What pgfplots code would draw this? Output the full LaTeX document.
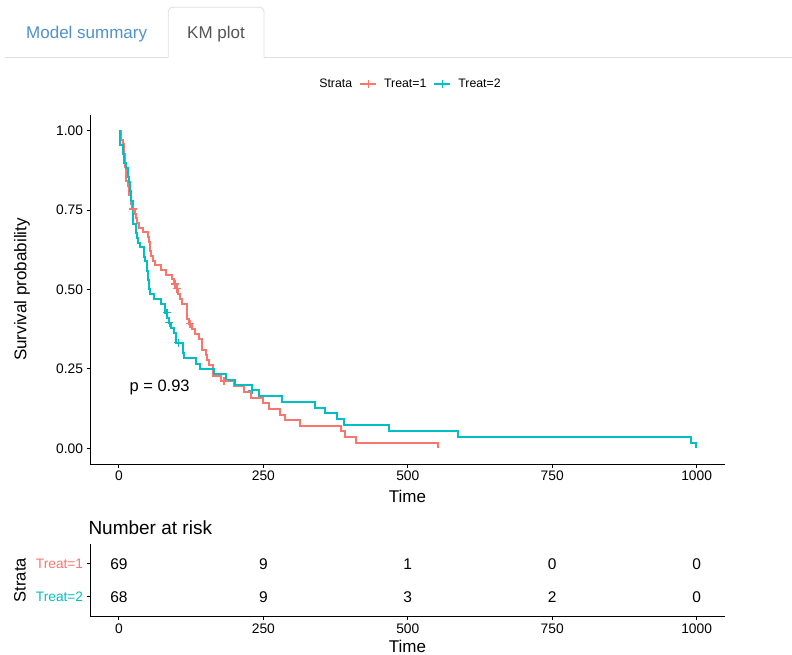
\documentclass[border=0pt]{standalone}
\usepackage{fontspec}
\setmainfont{Liberation Sans}
\usepackage{pgfplots}
\pgfplotsset{compat=1.18}
\definecolor{trA}{HTML}{F8766D}
\definecolor{trB}{HTML}{00BFC4}
\definecolor{tabblue}{HTML}{5090CC}
\definecolor{tabgray}{HTML}{555555}
\definecolor{tabline}{HTML}{DDDDDD}

\pgfplotsset{
  kmaxis/.style={
    scale only axis,
    anchor=south west,
    xmin=-49.95, xmax=1048.95,
    axis x line*=bottom, axis y line*=left,
    axis line style={line width=1pt, black},
    tick style={line width=1pt, black},
    tick align=outside,
    major tick length=3.5pt,
    /pgf/number format/assume math mode=true,
    tick label style={font=\fontsize{13.8}{16}\selectfont},
    xtick={0,250,500,750,1000},
    xticklabels={0,250,500,750,1000},
    label style={font=\fontsize{17}{20}\selectfont},
  }
}

\begin{document}
\begin{tikzpicture}[x=1pt,y=1pt]
\useasboundingbox (0pt,0pt) rectangle (792pt,655pt);

% tab bar
\draw[tabline, line width=0.8pt] (5pt,597.7pt) -- (168.3pt,597.7pt);
\draw[tabline, line width=0.8pt, rounded corners=4pt] (168.3pt,597.7pt) -- (168.3pt,647.7pt) -- (264pt,647.7pt) -- (264pt,597.7pt);
\draw[tabline, line width=0.8pt] (264pt,597.7pt) -- (792pt,597.7pt);
\node[anchor=base west, inner sep=0pt, font=\fontsize{17}{20}\selectfont, text=tabblue] at (26pt,616.7pt) {Model summary};
\node[anchor=base west, inner sep=0pt, font=\fontsize{17}{20}\selectfont, text=tabgray] at (187pt,616.7pt) {KM plot};

% survival curves
\begin{axis}[kmaxis,
  at={(90.1pt,190.8pt)},
  width=634.8pt, height=349.4pt,
  ymin=-0.05, ymax=1.05,
  ytick={0,0.25,0.5,0.75,1},
  yticklabels={0.00,0.25,0.50,0.75,1.00},
  xlabel={Time},
  ylabel={Survival probability},
  xlabel style={at={(axis description cs:0.5,0)}, anchor=center, yshift=-31.8pt},
  ylabel style={at={(axis description cs:-0.1073,0.5)}, anchor=center},
  legend style={at={(axis description cs:0.5,1.088)}, anchor=center, draw=none, fill=none,
    font=\fontsize{12.3}{14}\selectfont, legend columns=-1,
    /tikz/every odd column/.append style={column sep=5pt},
    /tikz/every even column/.append style={column sep=5pt}},
]
\addlegendimage{empty legend}
\addlegendentry{Strata}
\addlegendimage{trA, line width=2pt, mark=+, mark size=4pt, mark options={line width=1.2pt},
  legend image code/.code={\draw[mark repeat=2,mark phase=2] plot coordinates {(0pt,0pt) (8pt,0pt) (16pt,0pt)};}}
\addlegendentry{Treat=1}
\addlegendimage{trB, line width=2pt, mark=+, mark size=4pt, mark options={line width=1.2pt},
  legend image code/.code={\draw[mark repeat=2,mark phase=2] plot coordinates {(0pt,0pt) (8pt,0pt) (16pt,0pt)};}}
\addlegendentry{Treat=2}

% Treat=1
\addplot[const plot, trA, line width=2pt, mark=none, forget plot] coordinates {
(0,1) (3,0.98551) (4,0.97101) (7,0.95652) (8,0.92754) (10,0.89855) (11,0.88406)
(12,0.85507) (13,0.84058) (16,0.82609) (18,0.79710) (20,0.78261) (21,0.76812)
(22,0.75362) (27,0.73885) (30,0.72407) (31,0.70929) (35,0.69451) (42,0.67973)
(51,0.66496) (52,0.65018) (54,0.62063) (56,0.60585) (59,0.59107) (63,0.57630)
(72,0.56152) (82,0.54674) (92,0.53197) (95,0.51719) (100,0.50198) (103,0.48629)
(105,0.47061) (110,0.45492) (117,0.42354) (118,0.40786) (122,0.39217) (126,0.37583)
(132,0.35949) (139,0.34315) (143,0.32681) (144,0.31047) (151,0.29413) (153,0.27779)
(156,0.26145) (162,0.22877) (177,0.21243) (200,0.19473) (216,0.17703) (228,0.15932)
(250,0.14162) (260,0.12392) (278,0.10622) (287,0.08851) (314,0.07081) (384,0.05311)
(392,0.03541) (411,0.01770) (553,0)
};
\addplot[only marks, trA, mark=+, mark size=4pt, mark options={line width=1.2pt}, forget plot] coordinates {
(25,0.75362) (97,0.51719) (100,0.50198) (123,0.39217) (182,0.21243)
};

% Treat=2
\addplot[const plot, trB, line width=2pt, mark=none, forget plot] coordinates {
(0,1) (1,0.97059) (2,0.95588) (7,0.92647) (8,0.89706) (13,0.88235) (15,0.85294)
(18,0.83824) (19,0.80882) (20,0.79412) (21,0.77941) (24,0.75) (25,0.70588)
(29,0.69118) (30,0.67647) (31,0.66176) (33,0.64706) (36,0.63235) (43,0.61765)
(44,0.60294) (45,0.58824) (48,0.57353) (49,0.55882) (51,0.52941) (52,0.5)
(53,0.48529) (61,0.47059) (73,0.45588) (80,0.42647) (84,0.41124) (87,0.39601)
(90,0.38017) (95,0.36433) (99,0.33265) (111,0.29938) (112,0.28275) (133,0.26612)
(140,0.24949) (164,0.23285) (186,0.21622) (201,0.19959) (231,0.18295) (242,0.16466)
(283,0.14636) (340,0.12807) (357,0.10977) (378,0.09148) (389,0.07318) (467,0.05489)
(587,0.03659) (991,0.01830) (999,0)
};
\addplot[only marks, trB, mark=+, mark size=4pt, mark options={line width=1.2pt}, forget plot] coordinates {
(83,0.42647) (87,0.39601) (103,0.33265) (231,0.18295)
};

\node[anchor=base west, inner sep=0pt, font=\fontsize{16.5}{19}\selectfont] at (axis cs:18,0.179) {p = 0.93};
\end{axis}

% risk table
\node[anchor=base west, inner sep=0pt, font=\fontsize{19}{22}\selectfont] at (88.3pt,120pt) {Number at risk};
\begin{axis}[kmaxis,
  at={(90.1pt,38.5pt)},
  width=634.8pt, height=72.6pt,
  ymin=0.4, ymax=2.6,
  ytick={1,2},
  yticklabels={\textcolor{trB}{Treat=2},\textcolor{trA}{Treat=1}},
  yticklabel style={font=\fontsize{13.7}{16}\selectfont},
  xlabel={Time},
  ylabel={Strata},
  xlabel style={at={(axis description cs:0.5,0)}, anchor=center, yshift=-29.5pt},
  ylabel style={at={(axis description cs:-0.1104,0.5)}, anchor=center, font=\fontsize{16.5}{19}\selectfont},
]
\addplot[only marks, mark=*, mark size=0pt, mark options={draw=none, fill=none},
  nodes near coords, point meta=explicit symbolic,
  every node near coord/.append style={anchor=center, font=\fontsize{15.5}{18}\selectfont, text=black}]
  table[meta=n] {
x y n
0 2 69
250 2 9
500 2 1
750 2 0
1000 2 0
0 1 68
250 1 9
500 1 3
750 1 2
1000 1 0
};
\end{axis}
\end{tikzpicture}
\end{document}
